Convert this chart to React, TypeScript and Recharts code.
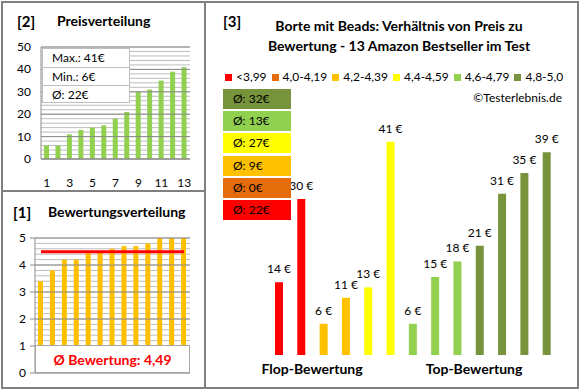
import { BarChart, Bar, XAxis, YAxis, CartesianGrid, ReferenceLine, Cell, LabelList, ComposedChart, Line } from "recharts";

const ranks = [1, 2, 3, 4, 5, 6, 7, 8, 9, 10, 11, 12, 13];
const sortedPrices = [6, 6, 11, 13, 14, 15, 18, 21, 30, 31, 35, 39, 41];
const sortedRatings = [3.4, 3.8, 4.2, 4.2, 4.5, 4.5, 4.6, 4.7, 4.7, 4.8, 5, 5, 5];
const avgRating = 4.49;

const priceMinorTicks = [0, 2, 4, 6, 8, 10, 12, 14, 16, 18, 20, 22, 24, 26, 28, 30, 32, 34, 36, 38, 40, 42, 44, 46, 48, 50];
const priceMajorTicks = [0, 10, 20, 30, 40, 50];
const ratingMinorTicks = [0, 0.2, 0.4, 0.6, 0.8, 1, 1.2, 1.4, 1.6, 1.8, 2, 2.2, 2.4, 2.6, 2.8, 3, 3.2, 3.4, 3.6, 3.8, 4, 4.2, 4.4, 4.6, 4.8, 5];
const ratingMajorTicks = [0, 1, 2, 3, 4, 5];

const priceStats = ["Max.: 41€", "Min.: 6€", "Ø: 22€"];

const productPrices = [14, 30, 6, 11, 13, 41, 6, 15, 18, 21, 31, 35, 39];
const productBands = [0, 0, 2, 2, 3, 3, 4, 4, 4, 5, 5, 5, 5];
const bandLabels = ["<3,99", "4,0-4,19", "4,2-4,39", "4,4-4,59", "4,6-4,79", "4,8-5,0"];
const bandColors = ["#FF0000", "#E46C0A", "#FFC000", "#FFFF00", "#92D050", "#77933C"];
const bandAvgPrices = [22, 0, 9, 27, 13, 32];

const FONT = "Lato, 'Open Sans', sans-serif";
const FRAME = "#808080";
const MINOR = "#BDBDBD";
const MAJOR = "#8C8C8C";

const priceData = ranks.map((r, i) => ({ rank: r, price: sortedPrices[i] }));
const ratingData = ranks.map((r, i) => ({ rank: r, rating: sortedRatings[i], avg: avgRating }));
const productData = productPrices.map((p, i) => ({ id: i + 1, price: p, band: productBands[i] }));

const majorTick = (majors: number[], tickLen: number) => (props: any) => {
    const { x, y, payload } = props;
    if (!majors.includes(payload.value)) return <g />;
    return (
        <g>
            {tickLen > 0 && <line x1={x + 4} x2={x + 4 + tickLen} y1={y} y2={y} stroke={MAJOR} />}
            <text x={x} y={y} dy={4} textAnchor="end" fontSize={12} fontFamily={FONT} fill="#000">
                {payload.value}
            </text>
        </g>
    );
};

// value label above each bar, kept on one line
const priceLabel = (props: any) => {
    const { x, y, width, value } = props;
    return (
        <text x={x + width / 2} y={y - 9} textAnchor="middle" fontSize={12} fontFamily={FONT} fill="#000">
            {`${value} €`}
        </text>
    );
};

function Txt({ x, y, size, bold, color, anchor, children }: any) {
    const shift = anchor === "middle" ? "-50%" : anchor === "end" ? "-100%" : "0";
    return (
        <div style={{
            position: "absolute", left: x, top: y, transform: `translate(${shift}, -50%)`,
            fontSize: size, fontWeight: bold ? 700 : 400, color: color ?? "#000",
            whiteSpace: "nowrap", lineHeight: 1,
        }}>
            {children}
        </div>
    );
}

export default function App() {
    return (
        <div style={{ position: "absolute", left: 0, top: 0, width: 580, height: 390, background: "#fff", fontFamily: FONT, overflow: "hidden" }}>
            {/* frames */}
            <div style={{ position: "absolute", left: 1, top: 1, width: 578, height: 388, border: `2px solid ${FRAME}`, boxSizing: "border-box" }} />
            <div style={{ position: "absolute", left: 204, top: 1, width: 2, height: 388, background: FRAME }} />
            <div style={{ position: "absolute", left: 1, top: 190, width: 205, height: 2, background: FRAME }} />

            {/* [2] Preisverteilung */}
            <Txt x={17} y={21} size={15} bold>[2]</Txt>
            <Txt x={57} y={21} size={14} bold>Preisverteilung</Txt>
            <div style={{ position: "absolute", left: 0, top: 0 }}>
                <BarChart width={197} height={190} data={priceData} margin={{ top: 47, right: 7, bottom: 0, left: 0 }} barCategoryGap={0}>
                    <CartesianGrid vertical={false} stroke={MINOR} />
                    {priceMajorTicks.map((t) => (
                        <ReferenceLine key={t} y={t} stroke={MAJOR} />
                    ))}
                    <XAxis dataKey="rank" interval={1} height={31} tickSize={0} tickMargin={19} axisLine={{ stroke: MAJOR }}
                        tick={{ fontSize: 12, fill: "#000", fontFamily: FONT }} />
                    <YAxis width={41} domain={[0, 50]} ticks={priceMinorTicks} interval={0} tickSize={0} tickMargin={10}
                        axisLine={{ stroke: MAJOR }} tick={majorTick(priceMajorTicks, 0)} />
                    <Bar dataKey="price" fill="#92D050" barSize={5} isAnimationActive={false} />
                </BarChart>
            </div>
            <div style={{ position: "absolute", left: 42, top: 48, width: 88, height: 55, background: "#fff", border: "1px solid #BFBFBF", boxSizing: "border-box" }}>
                {priceStats.map((s, i) => (
                    <div key={s} style={{
                        height: 18, lineHeight: "18px", fontSize: 12, paddingLeft: 9,
                        borderTop: i > 0 ? "1px solid #BFBFBF" : "none", boxSizing: "border-box",
                    }}>{s}</div>
                ))}
            </div>

            {/* [1] Bewertungsverteilung */}
            <Txt x={13} y={212} size={15} bold>[1]</Txt>
            <Txt x={48} y={212} size={14} bold>Bewertungsverteilung</Txt>
            <div style={{ position: "absolute", left: 0, top: 191 }}>
                <ComposedChart width={197} height={197} data={ratingData} margin={{ top: 47, right: 7, bottom: 15, left: 0 }} barCategoryGap={0}>
                    <CartesianGrid vertical={false} stroke={MINOR} />
                    {ratingMajorTicks.map((t) => (
                        <ReferenceLine key={t} y={t} stroke={MAJOR} />
                    ))}
                    <XAxis dataKey="rank" hide />
                    <YAxis width={35} domain={[0, 5]} ticks={ratingMinorTicks} interval={0} tickSize={5} tickMargin={4}
                        tickLine={false} axisLine={{ stroke: MAJOR }} tick={majorTick(ratingMajorTicks, 5)} />
                    <Bar dataKey="rating" fill="#FFC000" barSize={5} isAnimationActive={false} />
                    <Line dataKey="avg" stroke="#FF0000" strokeWidth={3} dot={false} isAnimationActive={false} />
                </ComposedChart>
            </div>
            <div style={{
                position: "absolute", left: 35, top: 345, width: 155, height: 28, background: "#fff",
                border: "1px solid #A6A6A6", boxSizing: "border-box", display: "flex", alignItems: "center",
                justifyContent: "center", color: "#FF0000", fontWeight: 700, fontSize: 14,
            }}>
                Ø Bewertung: {avgRating.toFixed(2).replace(".", ",")}
            </div>

            {/* [3] price vs rating */}
            <Txt x={223} y={21} size={15} bold>[3]</Txt>
            <Txt x={399} y={26} size={14} bold anchor="middle">Borte mit Beads: Verhältnis von Preis zu</Txt>
            <Txt x={399} y={46} size={14} bold anchor="middle">Bewertung - 13 Amazon Bestseller im Test</Txt>

            <div style={{ position: "absolute", left: 225, top: 70, display: "flex", alignItems: "center", fontSize: 12, lineHeight: "14px" }}>
                {bandLabels.map((l, i) => (
                    <div key={l} style={{ display: "flex", alignItems: "center", marginRight: 5 }}>
                        <div style={{ width: 7, height: 7, background: bandColors[i], marginRight: 4 }} />
                        <span>{l}</span>
                    </div>
                ))}
            </div>
            <Txt x={562} y={98} size={12} anchor="end">©Testerlebnis.de</Txt>

            <div style={{ position: "absolute", left: 205, top: 0 }}>
                <BarChart width={373} height={388} data={productData} margin={{ top: 121, right: 20, bottom: 33, left: 63 }} barCategoryGap={0}>
                    <XAxis dataKey="id" hide />
                    <YAxis domain={[0, 45]} hide />
                    <Bar dataKey="price" barSize={8} isAnimationActive={false}>
                        {productData.map((d) => (
                            <Cell key={d.id} fill={bandColors[d.band]} />
                        ))}
                        <LabelList dataKey="price" content={priceLabel} />
                    </Bar>
                </BarChart>
            </div>

            {bandAvgPrices.map((a, i) => {
                const row = bandAvgPrices.length - 1 - i;
                return (
                    <div key={i} style={{
                        position: "absolute", left: 223, top: 89 + row * 22.2, width: 68, height: 20,
                        background: bandColors[i], fontSize: 12, lineHeight: "20px", paddingLeft: 10, boxSizing: "border-box",
                    }}>
                        Ø: {a}€
                    </div>
                );
            })}

            <Txt x={312} y={369} size={14} bold anchor="middle">Flop-Bewertung</Txt>
            <Txt x={474} y={369} size={14} bold anchor="middle">Top-Bewertung</Txt>
        </div>
    );
}
